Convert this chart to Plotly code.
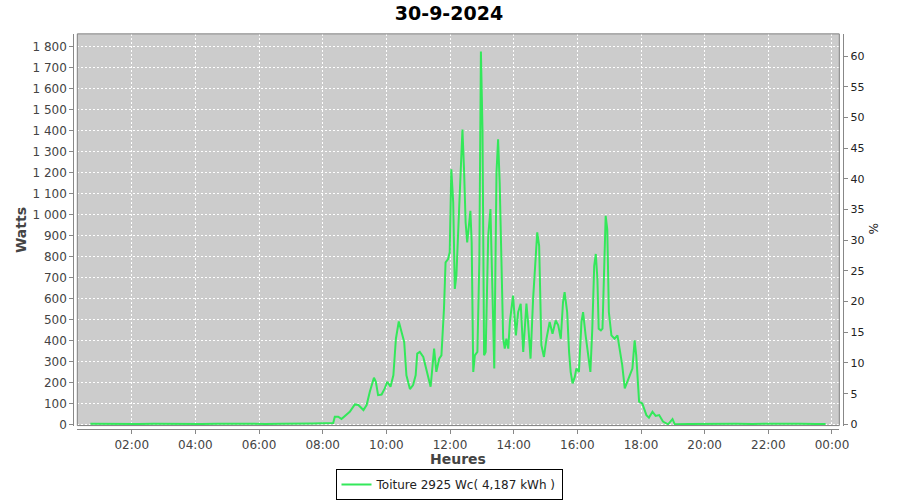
import plotly.graph_objects as go

# ---- data ----
hours = [0.70, 1.2, 1.7, 2.2, 2.7, 3.2, 3.7, 4.2, 4.7, 5.2, 5.7, 6.2, 6.7, 7.2, 7.7, 8.0, 8.33,
         8.38, 8.49, 8.59, 8.75, 8.85, 9.01, 9.12, 9.28, 9.38, 9.48, 9.61, 9.67, 9.74, 9.85,
         9.95, 10.03, 10.13, 10.22, 10.30, 10.39, 10.48, 10.56, 10.63, 10.74, 10.84, 10.92,
         10.97, 11.05, 11.16, 11.26, 11.39, 11.50, 11.57, 11.66, 11.73, 11.81, 11.86, 11.94,
         11.99, 12.04, 12.10, 12.15, 12.20, 12.29, 12.39, 12.44, 12.49, 12.54, 12.59, 12.64,
         12.68, 12.73, 12.78, 12.86, 12.92, 12.97, 13.02, 13.07, 13.12, 13.20, 13.27, 13.33,
         13.39, 13.46, 13.51, 13.56, 13.67, 13.72, 13.77, 13.83, 13.88, 13.98, 14.07, 14.14,
         14.22, 14.30, 14.40, 14.45, 14.53, 14.61, 14.68, 14.74, 14.80, 14.87, 14.95, 15.03,
         15.13, 15.22, 15.32, 15.40, 15.48, 15.55, 15.60, 15.68, 15.74, 15.79, 15.85, 15.92,
         15.97, 16.05, 16.13, 16.18, 16.26, 16.33, 16.41, 16.47, 16.53, 16.58, 16.63, 16.67,
         16.74, 16.79, 16.84, 16.89, 16.94, 16.99, 17.07, 17.17, 17.26, 17.33, 17.41, 17.49,
         17.56, 17.65, 17.73, 17.80, 17.85, 17.94, 18.04, 18.17, 18.25, 18.36, 18.46, 18.57,
         18.69, 18.85, 18.99, 19.06, 19.5, 20.0, 20.5, 21.0, 21.5, 22.0, 22.5, 23.0, 23.5, 23.8]
watts = [3, 2, 3, 2, 3, 2, 3, 2, 3, 2, 3, 2, 3, 2, 4, 5, 6,
         36, 36, 25, 44, 60, 95, 92, 68, 92, 155, 222, 203, 139, 142,
         171, 203, 179, 234, 408, 490, 440, 393, 234, 168, 187, 234,
         337, 345, 321, 258, 179, 361, 250, 313, 329, 551, 772, 788,
         820, 1216, 1057, 645, 709, 1041, 1405, 1216, 962, 867, 962, 1018,
         867, 250, 329, 345, 772, 1777, 1405, 329, 345, 899, 1026, 567,
         266, 1200, 1358, 1152, 408, 361, 408, 361, 488, 614, 424, 535,
         575, 345, 575, 488, 313, 598, 772, 915, 851, 377, 321, 408,
         488, 432, 495, 472, 408, 583, 630, 535, 345, 250, 195, 226,
         266, 250, 488, 535, 424, 345, 250, 456, 756, 812, 693, 456,
         448, 456, 725, 994, 930, 535, 424, 408, 424, 361, 282, 171,
         203, 234, 266, 400, 329, 108, 100, 44, 32, 60, 40, 44,
         13, 0, 25, 0, 2, 3, 2, 3, 2, 3, 2, 3, 2, 2]

peak_wc = 2925
series_name = "Toiture 2925 Wc( 4,187 kWh )"
title_text = "30-9-2024"
x_tickvals = [2, 4, 6, 8, 10, 12, 14, 16, 18, 20, 22, 24]
x_ticktext = ["02:00", "04:00", "06:00", "08:00", "10:00", "12:00",
              "14:00", "16:00", "18:00", "20:00", "22:00", "00:00"]

# ---- layout geometry: window pixel -> paper coords (body margin removed) ----
FW, FH = 900, 500


def px(x):
    return x / FW


def py(y):
    return 1 - y / FH


W_RANGE = [-6, 1861]
P_RANGE = [W_RANGE[0] * 100 / peak_wc, W_RANGE[1] * 100 / peak_wc]
XD = [px(77.3), px(839.3)]
YD = [py(427.3), py(34)]

FONT = "DejaVu Sans"
GREEN = "#33e85a"

fig = go.Figure()
fig.add_trace(go.Scatter(x=hours, y=watts, mode="lines", name=series_name,
                         line=dict(color=GREEN, width=2), showlegend=True))
# invisible trace to activate % axis
fig.add_trace(go.Scatter(x=[hours[0]], y=[0], yaxis="y2", mode="lines",
                         line=dict(color="rgba(0,0,0,0)"), showlegend=False, hoverinfo="skip"))

fig.update_layout(
    width=FW, height=FH,
    margin=dict(l=0, r=0, t=0, b=0, pad=0),
    paper_bgcolor="white", plot_bgcolor="#cccccc",
    separators=", ",
    font=dict(family=FONT, size=12, color="#444444"),
    title=dict(text=title_text, x=px(449), xanchor="center", y=py(13.5), yanchor="middle",
               font=dict(family=FONT, size=19, color="black", weight="bold")),
    xaxis=dict(domain=XD, range=[0.29, 24.23], anchor="free", position=py(431),
               tickvals=x_tickvals, ticktext=x_ticktext, automargin=False,
               showline=True, linecolor="#888888", linewidth=1,
               ticks="outside", ticklen=4, tickcolor="#888888",
               showgrid=True, gridcolor="white", griddash="2px,2px", gridwidth=1,
               zeroline=False, tickfont=dict(size=12, color="#444444")),
    yaxis=dict(domain=YD, range=W_RANGE, anchor="free", position=px(73.3),
               dtick=100, tick0=0, separatethousands=True, automargin=False,
               showline=True, linecolor="#888888", linewidth=1,
               ticks="outside", ticklen=4, tickcolor="#888888",
               showgrid=True, gridcolor="white", griddash="2px,2px", gridwidth=1,
               zeroline=False, tickfont=dict(size=12, color="#444444")),
    yaxis2=dict(domain=YD, range=P_RANGE, overlaying="y", side="right",
                anchor="free", position=px(843.3), dtick=5, tick0=0, automargin=False,
                showline=True, linecolor="#888888", linewidth=1,
                ticks="outside", ticklen=4, tickcolor="#888888",
                showgrid=False, zeroline=False,
                tickfont=dict(size=11, color="#222222")),
    legend=dict(orientation="h", x=px(449), xanchor="center", y=py(486.5), yanchor="middle",
                bordercolor="black", borderwidth=1, bgcolor="white",
                font=dict(family=FONT, size=12, color="#222222"),
                itemwidth=30, tracegroupgap=0),
    shapes=[dict(type="rect", xref="paper", yref="paper", x0=XD[0], x1=XD[1],
                 y0=YD[0], y1=YD[1], line=dict(color="#808080", width=1),
                 fillcolor="rgba(0,0,0,0)", layer="above")],
    annotations=[
        dict(text="Watts", xref="paper", yref="paper", x=px(21), y=py(231),
             textangle=-90, showarrow=False, xanchor="center", yanchor="middle",
             font=dict(family=FONT, size=14, color="#444444", weight="bold")),
        dict(text="%", xref="paper", yref="paper", x=px(873), y=py(229),
             textangle=90, showarrow=False, xanchor="center", yanchor="middle",
             font=dict(family=FONT, size=12, color="#222222")),
        dict(text="Heures", xref="paper", yref="paper", x=px(458), y=py(460.5),
             showarrow=False, xanchor="center", yanchor="middle",
             font=dict(family=FONT, size=14, color="#444444", weight="bold")),
    ],
)

fig.write_html("out.html", config={"displayModeBar": False},
               post_script="document.body.style.margin='0px';")
